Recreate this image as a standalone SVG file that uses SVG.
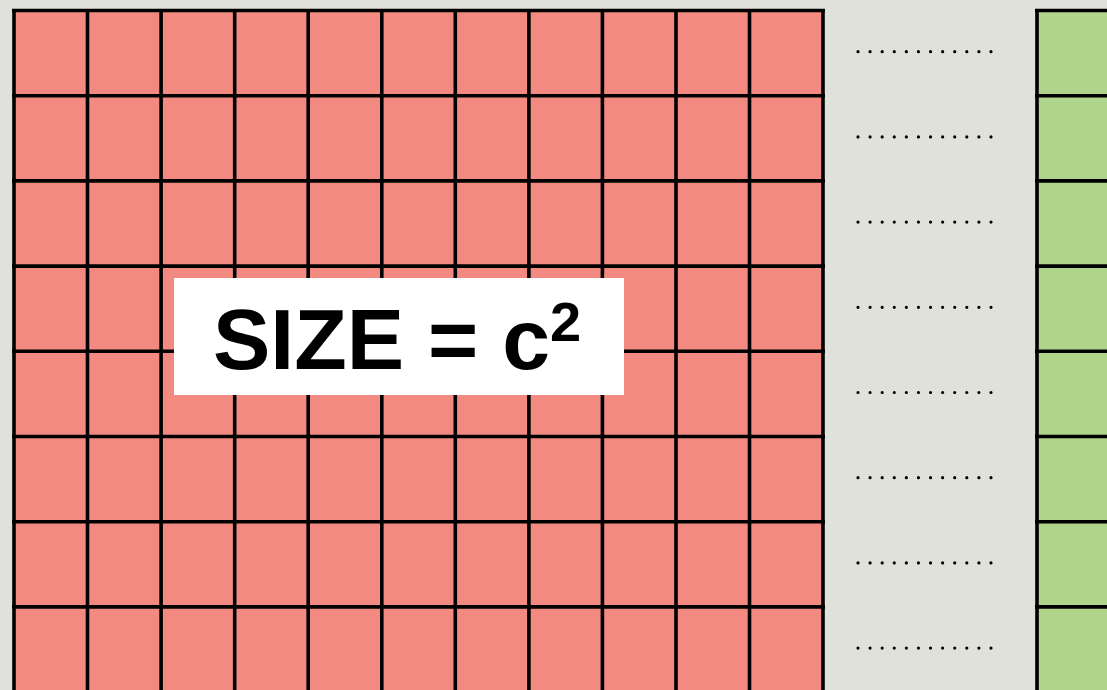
<svg xmlns="http://www.w3.org/2000/svg" width="1107" height="690" viewBox="0 0 1107 690">
<style>
.grid{stroke:#000;stroke-width:3.6;fill:none}
.dots{stroke:#000;stroke-width:3.2;stroke-linecap:round;stroke-dasharray:0 12.09}
.lbl{font-family:"Liberation Sans",Arial,sans-serif;font-weight:bold;fill:#000}
</style>
<rect x="0" y="0" width="1107" height="690" fill="#dfe1da"/>
<g id="red-grid">
<rect x="14" y="10.5" width="809" height="690" fill="#f38a82"/>
<path class="grid" d="M14,700V10.5M87.5,700V10.5M161.1,700V10.5M234.7,700V10.5M308.2,700V10.5M381.8,700V10.5M455.3,700V10.5M528.9,700V10.5M602.4,700V10.5M676,700V10.5M749.5,700V10.5M823,700V10.5
M12,10.5H825M12,95.7H825M12,180.9H825M12,266.1H825M12,351.3H825M12,436.5H825M12,521.7H825M12,606.9H825"/>
</g>
<g id="green-column">
<rect x="1037" y="10.5" width="80" height="690" fill="#b0d58a"/>
<path class="grid" d="M1037,700V10.5M1035,10.5H1110M1035,95.7H1110M1035,180.9H1110M1035,266.1H1110M1035,351.3H1110M1035,436.5H1110M1035,521.7H1110M1035,606.9H1110"/>
</g>
<g id="dots">
<path class="dots" d="M858,51.7H992M858,136.9H992M858,222.1H992M858,307.3H992M858,392.5H992M858,477.7H992M858,562.9H992M858,648.1H992"/>
</g>
<g id="label">
<rect x="174" y="278" width="450" height="117" fill="#fff"/>
<text class="lbl" x="213" y="369" font-size="86">SIZE = c<tspan x="550" y="341" font-size="56">2</tspan></text>
</g>
</svg>
